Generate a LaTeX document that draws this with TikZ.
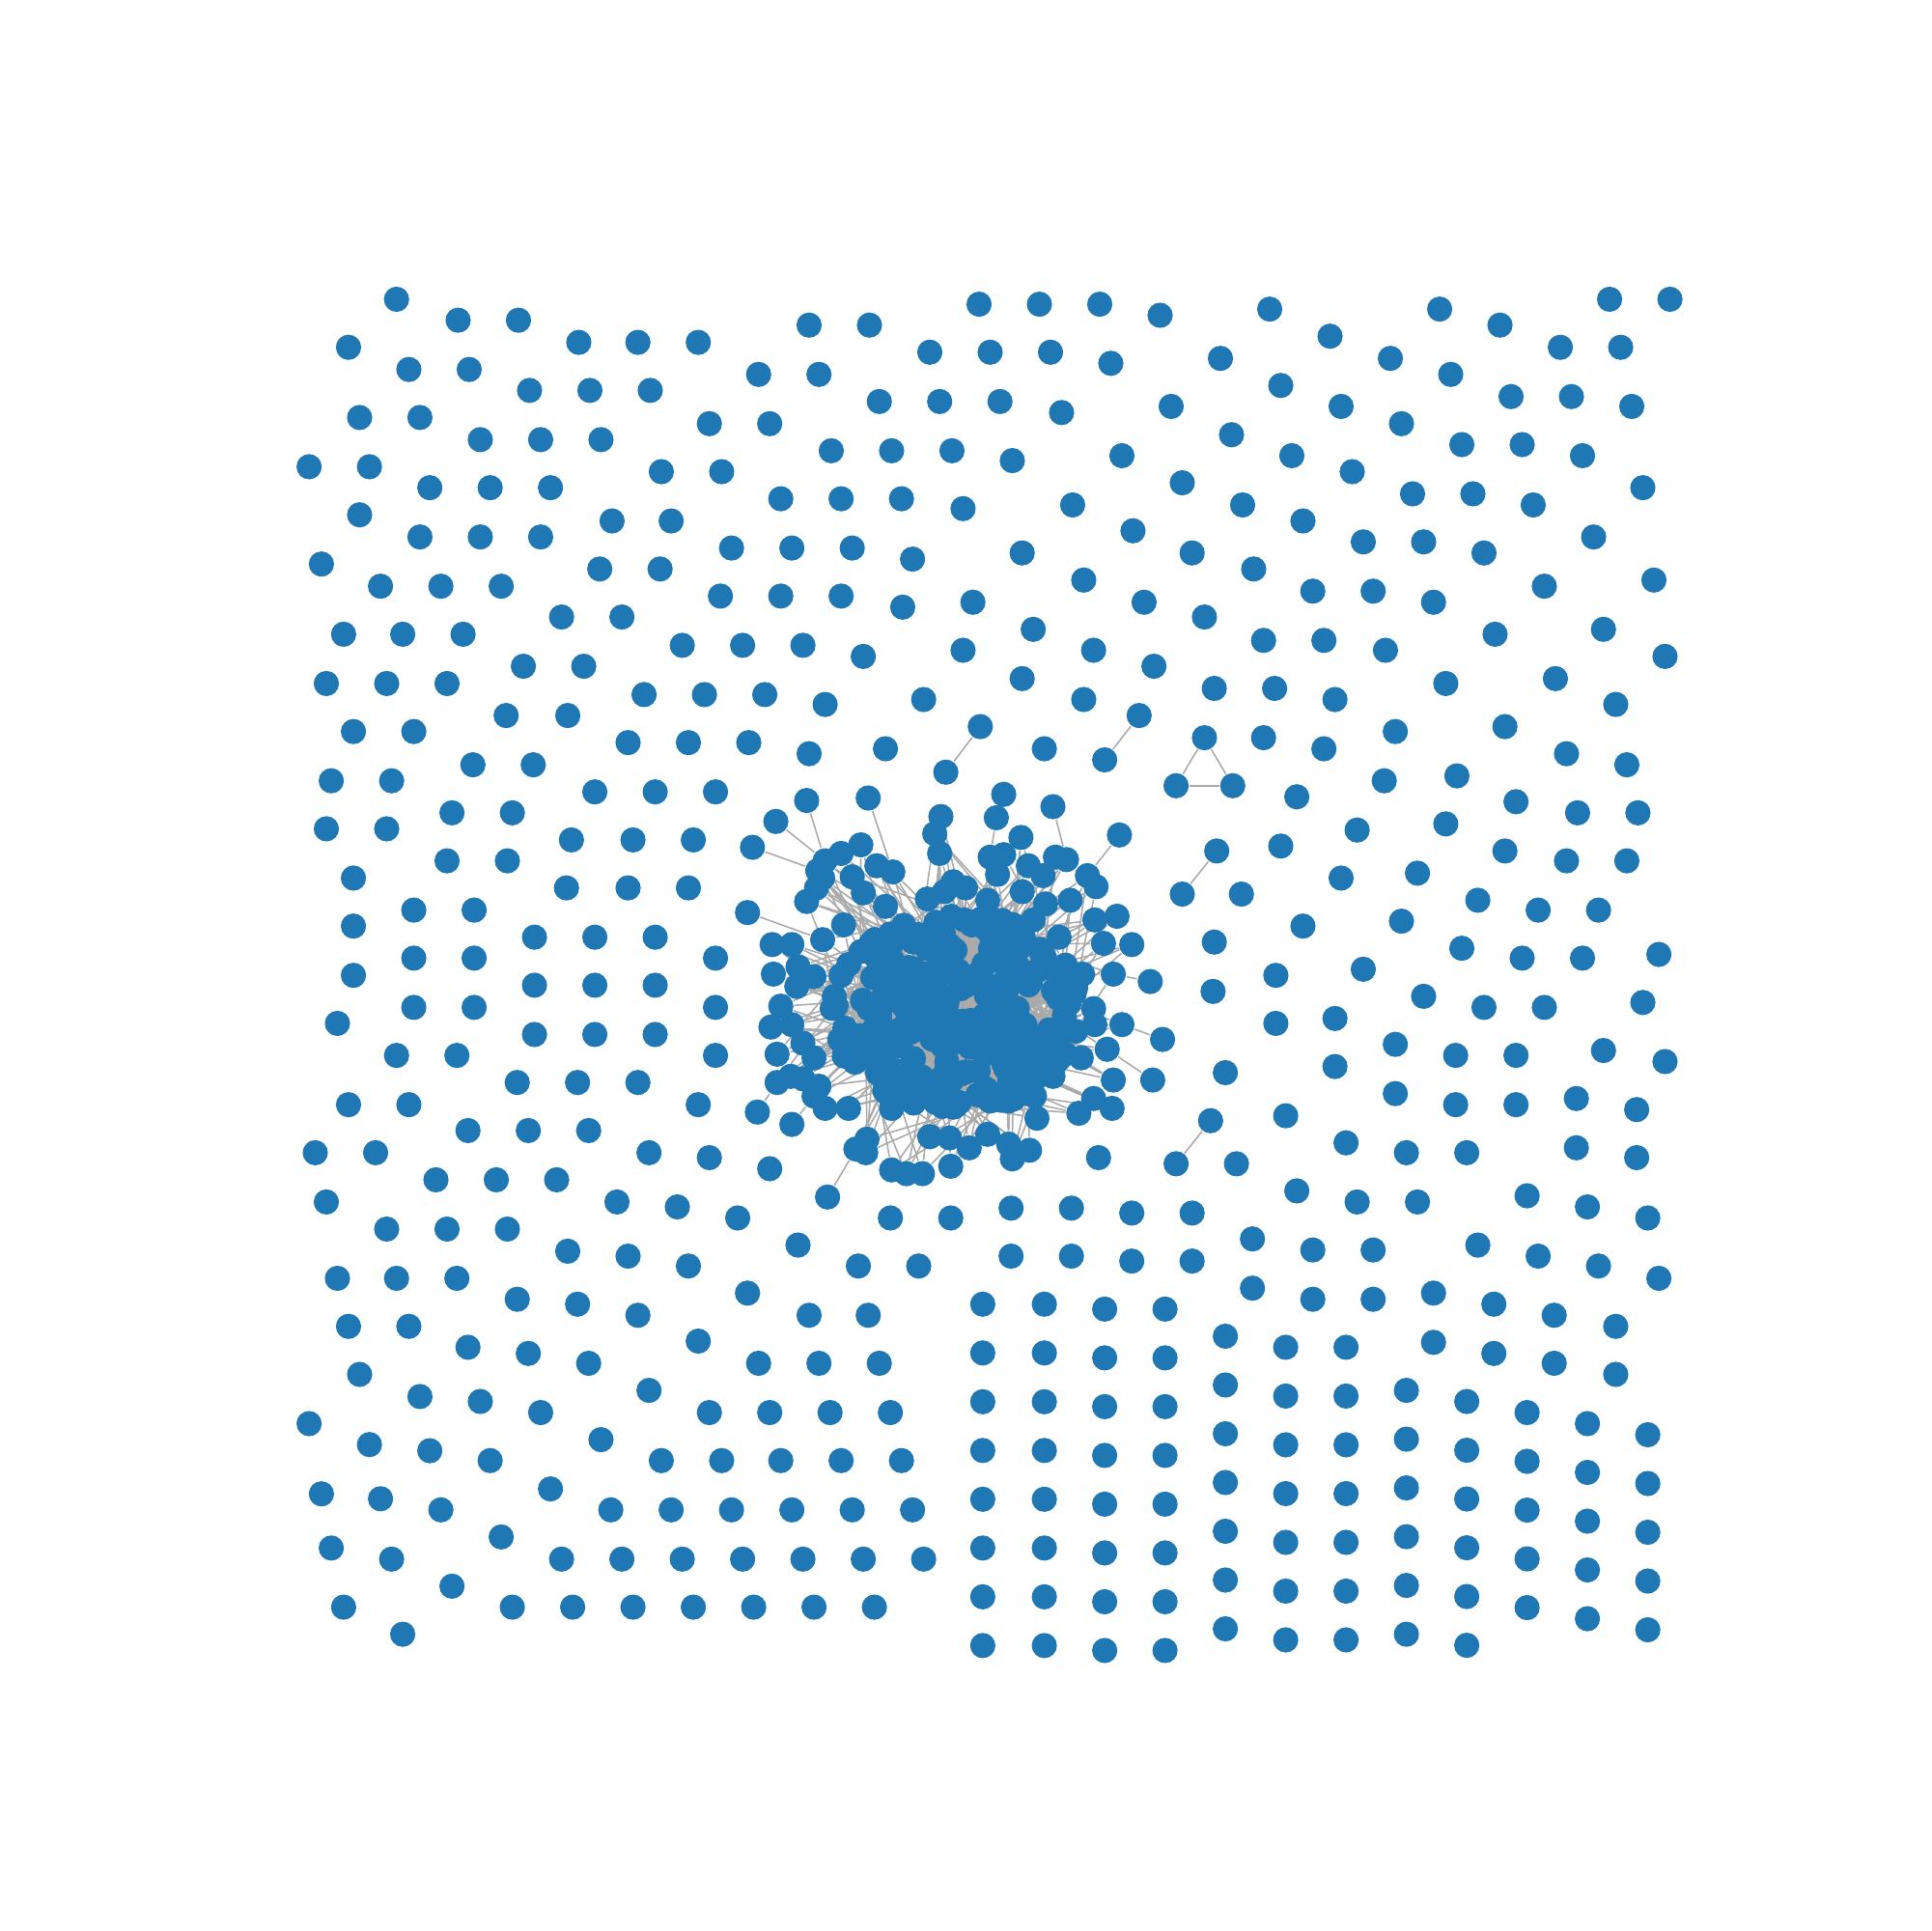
\documentclass[tikz,border=0pt]{standalone}
\usetikzlibrary{calc}
\pgfdeclarelayer{bg}
\pgfsetlayers{bg,main}
\definecolor{nxblue}{HTML}{1F77B4}
\definecolor{edgegray}{HTML}{AAAAAA}
\begin{document}
\begin{tikzpicture}[x=0.01cm,y=-0.01cm,
  vtx/.style={circle,fill=nxblue,draw=none,inner sep=0pt,minimum size=0.205cm},
  edge/.style={draw=edgegray,line width=0.35pt}]
\useasboundingbox (0,0) rectangle (1568,1568);
\pgfmathsetseed{7}
% isolated nodes
\foreach \x/\y [count=\k] in {322/243, 372/260, 421/260, 283/282, 470/278, 518/278, 567/278, 332/300, 381/300, 430/317, 479/317, 528/317, 292/339, 341/339, 390/357, 439/357, 488/357, 251/379, 300/379, 349/396, 398/396, 447/396, 292/418, 497/423, 545/423, 341/436, 390/436, 439/436, 261/458, 487/462, 536/462, 309/476, 358/476, 407/476, 456/501, 505/501, 279/515, 327/515, 376/515, 425/541, 474/541, 265/555, 314/555, 363/555, 523/564, 572/564, 621/564, 411/581, 461/581, 287/594, 336/594, 510/603, 559/603, 608/603, 384/621, 433/621, 269/634, 318/634, 483/643, 532/643, 581/643, 367/660, 416/660, 265/673, 314/673, 464/682, 514/682, 563/682, 363/699, 412/699, 287/713, 460/721, 510/721, 559/721, 336/739, 385/739, 287/752, 434/761, 483/761, 532/761, 336/778, 385/778, 581/778, 287/792, 434/800, 483/800, 532/800, 336/818, 385/818, 581/818, 274/831, 434/840, 483/840, 532/840, 322/857, 371/857, 581/857, 420/879, 469/879, 518/879, 283/897, 332/897, 567/897, 380/918, 429/918, 478/918, 256/936, 305/936, 527/936, 576/940, 625/949, 354/958, 403/958, 452/958, 265/976, 501/976, 550/980, 599/989, 314/998, 363/998, 412/998, 648/1011, 461/1016, 510/1020, 559/1028, 697/1028, 746/1028, 274/1038, 322/1038, 371/1038, 607/1050, 420/1055, 469/1059, 518/1068, 657/1068, 705/1068, 283/1077, 332/1077, 567/1089, 380/1094, 429/1099, 478/1107, 616/1107, 665/1107, 714/1107, 292/1116, 527/1129, 341/1134, 390/1138, 439/1147, 576/1147, 625/1147, 674/1147, 723/1147, 251/1156, 488/1169, 300/1173, 349/1178, 398/1186, 537/1186, 586/1186, 634/1186, 683/1186, 732/1186, 447/1209, 261/1213, 309/1217, 358/1226, 496/1226, 545/1226, 594/1226, 643/1226, 692/1226, 741/1226, 407/1248, 269/1257, 318/1266, 456/1266, 505/1266, 554/1266, 603/1266, 652/1266, 701/1266, 750/1266, 367/1288, 279/1305, 416/1305, 465/1305, 514/1305, 563/1305, 612/1305, 661/1305, 710/1305, 327/1327}
  {\node[vtx] (i\k) at (\x,\y) {};}
\foreach \x/\y [count=\k] in {657/264, 706/264, 795/247, 844/247, 893/247, 942/256, 1031/251, 1169/251, 1218/264, 1307/243, 1356/243, 1080/273, 755/286, 804/286, 853/286, 902/295, 991/291, 1129/291, 1267/282, 1316/282, 616/304, 665/304, 1178/304, 1040/313, 714/326, 763/326, 812/326, 862/335, 951/330, 1089/330, 1227/322, 1276/322, 1325/330, 576/344, 625/344, 1138/344, 1000/353, 675/366, 724/366, 773/366, 822/374, 911/370, 1049/370, 1187/361, 1236/361, 1285/370, 537/383, 586/383, 1098/383, 960/392, 634/405, 683/405, 732/405, 782/413, 871/410, 1009/410, 1147/401, 1196/401, 1245/410, 1334/396, 1058/423, 920/431, 594/445, 643/445, 692/445, 741/454, 830/449, 968/449, 1107/440, 1156/440, 1205/449, 1294/436, 1018/462, 880/471, 1343/471, 585/484, 634/484, 683/484, 733/493, 790/489, 929/489, 1066/480, 1115/480, 1164/489, 1254/476, 978/501, 839/511, 1302/511, 554/524, 603/524, 652/524, 701/533, 782/528, 888/528, 1026/520, 1075/520, 1125/528, 1214/515, 1352/533, 937/541, 830/551, 986/559, 1035/559, 1174/555, 1263/551, 670/572, 750/568, 880/568, 1084/568, 1312/572, 1133/594, 1222/590, 657/612, 719/608, 848/608, 1026/599, 1075/608, 1272/612, 1321/621, 1124/634, 1183/630, 1053/647, 1231/651, 1281/660, 1330/660, 1174/669, 1102/674, 1040/687, 1222/691, 1272/699, 1321/699, 1089/713, 1151/709, 1008/726, 1200/731, 1249/739, 1298/739, 1058/752, 1138/748, 986/765, 1187/770, 1236/778, 1285/778, 1347/775, 1036/792, 1107/787, 985/805, 1156/809, 1205/818, 1254/818, 1334/814, 1036/831, 1084/827, 1133/848, 1182/857, 1231/857, 1302/853, 1352/862, 995/871, 1084/866, 1133/888, 1182/897, 1231/897, 1280/892, 1329/901, 1044/906, 892/940, 1004/945, 1093/928, 1142/936, 1191/936, 1280/932, 1329/940, 1053/967, 1102/976, 1151/976, 1240/971, 723/989, 772/989, 821/981, 870/981, 919/985, 968/985, 1289/980, 1338/989, 1017/1006, 1066/1015, 1115/1015, 1200/1011, 1249/1020, 821/1020, 870/1020, 919/1024, 968/1024, 1298/1028, 1347/1038, 1017/1046, 1066/1055, 1115/1055, 1164/1050, 1213/1059, 1262/1068, 1312/1077, 1164/1090, 1213/1099, 1262/1107, 1312/1116}
  {\node[vtx] (j\k) at (\x,\y) {};}
% grid block bottom right
\foreach \cx/\cy/\n in {798/1059/7, 848/1059/7, 897/1063/7, 946/1063/7, 995/1085/6, 1044/1094/6, 1093/1094/6, 1142/1129/5, 1191/1138/5, 1240/1147/4, 1289/1156/4, 1338/1165/4}
  {\foreach \k in {0,...,\n} {\node[vtx] (g\cx-\k) at (\cx,{\cy+39.6*\k}) {};}}
% cluster fill nodes
\foreach \k in {1,...,250} {
  \pgfmathsetmacro{\ang}{360*rnd}
  \pgfmathsetmacro{\rr}{sqrt(rnd)}
  \pgfmathsetmacro{\fx}{777+103*\rr*cos(\ang)}
  \pgfmathsetmacro{\fy}{822+80*\rr*sin(\ang)}
  \node[vtx] (f\k) at (\fx,\fy) {};
}
\begin{pgfonlayer}{bg}
\foreach \k in {1,...,250} {
  \foreach \m in {1,2,3} {
    \pgfmathrandominteger{\a}{1}{250}
    \draw[edge] (f\k) -- (f\a);
  }
}
\end{pgfonlayer}
% cluster rim nodes
\foreach \x/\y [count=\k] in {670/699, 725/708, 664/707, 668/763, 904/791, 911/832, 899/852, 631/879, 661/890, 695/933, 866/698, 883/711, 804/696, 764/663, 759/677, 763/693, 683/693, 699/686, 668/713, 655/732, 663/721, 692/712, 701/725, 712/703, 719/736, 753/730, 767/724, 774/716, 766/758, 627/767, 643/767, 685/751, 628/791, 648/785, 661/793, 683/792, 647/801, 829/680, 815/694, 810/710, 835/703, 857/696, 890/720, 847/711, 830/724, 849/734, 869/731, 784/721, 802/731, 783/747, 802/747, 889/747, 907/744, 919/767, 896/766, 879/791, 860/761, 839/747, 831/761, 813/770, 823/787, 844/787, 865/787, 634/817, 626/834, 643/832, 631/856, 652/847, 661/859, 642/874, 652/876, 665/882, 670/900, 689/900, 704/925, 703/936, 724/950, 736/953, 749/953, 755/923, 771/924, 772/947, 774/899, 724/900, 904/877, 903/900, 888/892, 876/904, 888/819, 889/832, 840/890, 842/908, 819/894, 804/894, 794/889, 776/898, 855/874, 878/859, 802/921, 822/941, 836/934, 819/929, 787/932} {
  \node[vtx] (r\k) at (\x,\y) {};
  \begin{pgfonlayer}{bg}
  \foreach \m in {1,2,3} {
    \pgfmathrandominteger{\a}{1}{250}
    \draw[edge] (r\k) -- (f\a);
  }
  \end{pgfonlayer}
}
% spoke nodes
\foreach \x/\y [count=\k] in {655/650, 705/648, 630/667, 611/688, 607/741, 934/797, 944/844, 936/877, 615/903, 643/913, 672/972, 855/655, 909/678, 815/645, 809/664, 796/590, 768/627, 925/581, 897/617, 978/599, 955/638, 1001/638, 988/691, 960/726, 983/910, 955/945}
  {\node[vtx] (s\k) at (\x,\y) {};}
\begin{pgfonlayer}{bg}
\foreach \a/\b in {s1/r1, s2/r2, s3/r1, s4/r3, s5/r4, s6/r5, s7/r6, s8/r7, s9/r8, s10/r9, s11/r10, s12/r11, s13/r12, s14/s15, s15/r13, s16/s17, s18/s19, s20/s21, s20/s22, s21/s22, s23/s24, s25/s26, r14/r15, r15/r16}
  {\draw[edge] (\a) -- (\b);}
\end{pgfonlayer}
\end{tikzpicture}
\end{document}
